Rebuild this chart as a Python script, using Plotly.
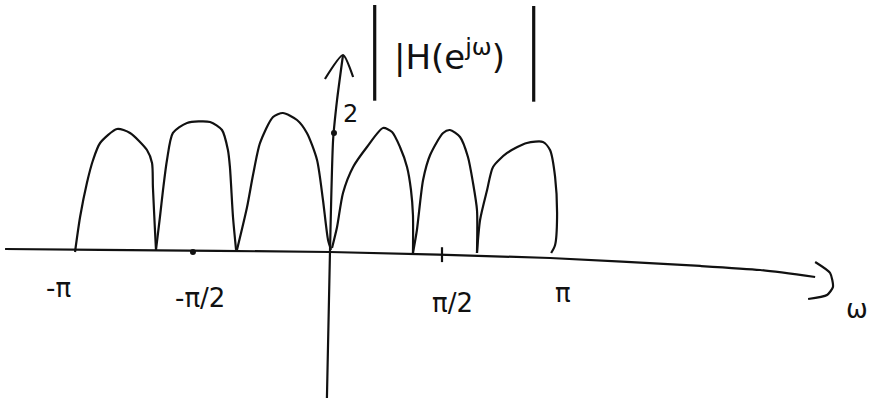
import plotly.graph_objects as go

# Magnitude response |H(e^jw)| sketch: omega in units of pi, magnitude in units where the mark "2" sits at 2
hump_w = [
    [-1.159, -1.136, -1.105, -1.077, -1.045, -0.968, -0.909, -0.832, -0.809, -0.805, -0.795, -0.791],
    [-0.791, -0.773, -0.759, -0.741, -0.714, -0.650, -0.545, -0.491, -0.464, -0.455, -0.441, -0.427],
    [-0.423, -0.377, -0.350, -0.318, -0.259, -0.214, -0.150, -0.105, -0.059, -0.032, -0.009, 0.005],
    [0.009, 0.032, 0.059, 0.105, 0.168, 0.241, 0.282, 0.318, 0.350, 0.368, 0.377, 0.377],
    [0.377, 0.395, 0.423, 0.455, 0.514, 0.545, 0.591, 0.627, 0.650, 0.668, 0.668],
    [0.668, 0.682, 0.714, 0.741, 0.805, 0.895, 0.968, 1.000, 1.023, 1.032, 1.023, 1.005],
]
hump_mag = [
    [0.000, 0.588, 1.160, 1.546, 1.832, 2.067, 2.000, 1.714, 1.496, 1.092, 0.319, 0.034],
    [0.034, 0.588, 1.042, 1.546, 2.000, 2.168, 2.185, 2.050, 1.714, 1.429, 0.588, 0.034],
    [0.034, 0.756, 1.294, 1.832, 2.269, 2.336, 2.218, 2.000, 1.546, 0.874, 0.202, 0.034],
    [0.067, 0.420, 0.992, 1.429, 1.765, 2.084, 2.017, 1.765, 1.429, 1.042, 0.622, -0.017],
    [-0.017, 0.370, 1.210, 1.630, 2.000, 2.050, 1.933, 1.597, 1.160, 0.706, -0.017],
    [-0.017, 0.538, 1.042, 1.429, 1.664, 1.832, 1.849, 1.714, 1.261, 0.588, 0.118, -0.017],
]

# Hand-drawn axes
w_axis_x = [-1.477, -1.045, 0.000, 1.000, 1.682, 1.955, 2.205]
w_axis_y = [0.050, 0.034, 0.000, -0.101, -0.235, -0.303, -0.420]
w_arrow_x = [2.205, 2.273, 2.286, 2.259, 2.173]
w_arrow_y = [-0.168, -0.353, -0.588, -0.723, -0.790]
mag_axis_x = [-0.014, 0.000, 0.014, 0.032, 0.059]
mag_axis_y = [-2.454, 0.034, 1.882, 2.555, 3.311]
mag_arrow_x = [-0.023, 0.059, 0.105]
mag_arrow_y = [2.908, 3.311, 2.941]

# Tick labels along the omega axis
tick_labels = ["-π", "-π/2", "π/2", "π"]
tick_x = [-1.236, -0.591, 0.555, 1.059]
tick_y = [-0.605, -0.773, -0.857, -0.689]

INK = "#111111"
fig = go.Figure()

for wx, my in zip(hump_w, hump_mag):
    fig.add_trace(go.Scatter(x=wx, y=my, mode="lines",
                             line=dict(color=INK, width=2.2, shape="spline", smoothing=0.7),
                             hoverinfo="skip"))

for ax, ay in [(w_axis_x, w_axis_y), (w_arrow_x, w_arrow_y),
               (mag_axis_x, mag_axis_y), (mag_arrow_x, mag_arrow_y)]:
    fig.add_trace(go.Scatter(x=ax, y=ay, mode="lines",
                             line=dict(color=INK, width=2.2, shape="spline", smoothing=0.6),
                             hoverinfo="skip"))

# small marks: dot at -pi/2, tick at pi/2, dot at level 2
fig.add_trace(go.Scatter(x=[-0.623, 0.018], y=[0.0, 2.0], mode="markers",
                         marker=dict(color=INK, size=6), hoverinfo="skip"))
fig.add_trace(go.Scatter(x=[0.509, 0.509], y=[0.08, -0.17], mode="lines",
                         line=dict(color=INK, width=2.2), hoverinfo="skip"))

font = dict(family="DejaVu Sans", color=INK)
for t, x, y in zip(tick_labels, tick_x, tick_y):
    fig.add_annotation(x=x, y=y, text=t, showarrow=False, font=dict(size=26, **font))

fig.add_annotation(x=0.091, y=2.319, text="2", showarrow=False, font=dict(size=24, **font))
fig.add_annotation(x=2.395, y=-0.958, text="ω", showarrow=False, font=dict(size=26, **font))

# |H(e^jw)| label with tall outer bars
bar_font = dict(family="Inter", color=INK, weight=200, size=80)
fig.add_annotation(x=0.200, y=3.345, text="|", showarrow=False, font=bar_font)
fig.add_annotation(x=0.545, y=3.311, text="|H(e<sup>jω</sup>)", showarrow=False,
                   font=dict(size=34, **font))
fig.add_annotation(x=0.923, y=3.328, text="|", showarrow=False, font=bar_font)

fig.update_layout(
    width=873, height=403,
    margin=dict(l=0, r=0, t=0, b=0),
    paper_bgcolor="white", plot_bgcolor="white",
    showlegend=False,
    xaxis=dict(range=[-1.5, 2.468], visible=False, fixedrange=True),
    yaxis=dict(range=[-2.538, 4.235], visible=False, fixedrange=True),
)

fig.write_html("out.html")
